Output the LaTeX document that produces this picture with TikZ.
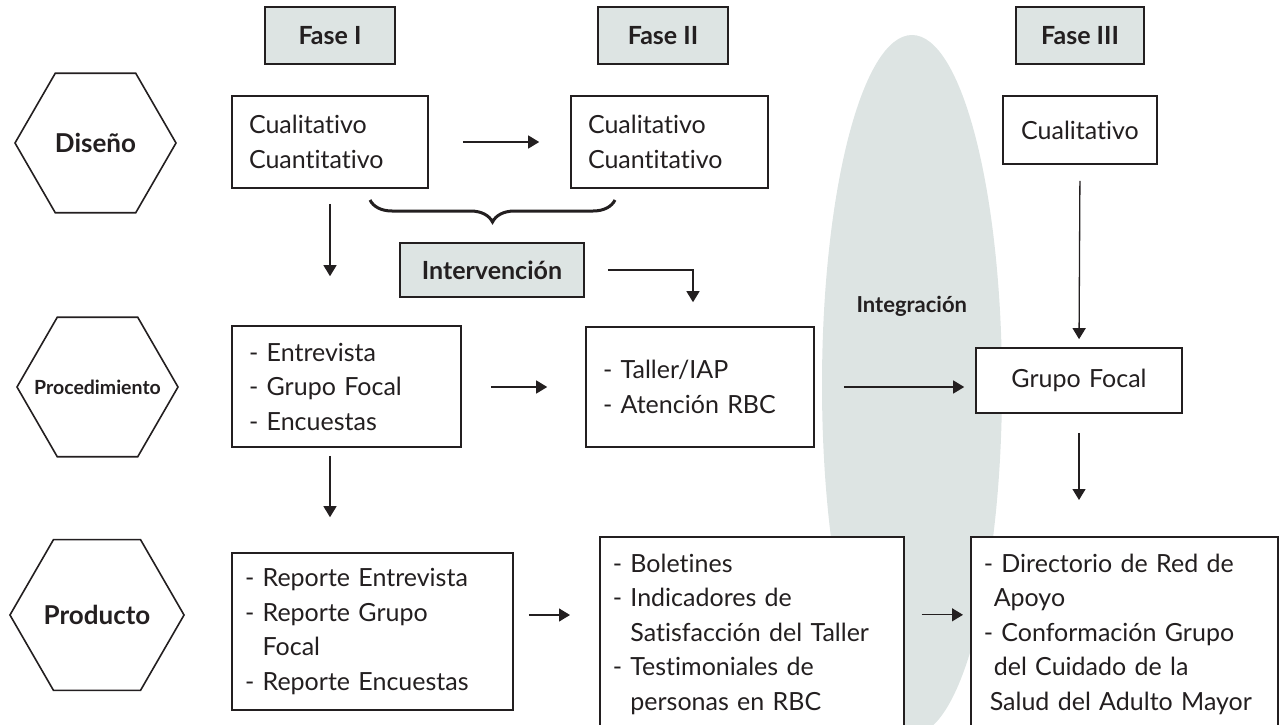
\documentclass[tikz,border=0pt]{standalone}
\usepackage{fontspec}
\setmainfont[Ligatures=NoCommon]{Lato}
\usepackage{tikz}
\definecolor{phase}{RGB}{221,228,227}
\definecolor{ink}{RGB}{35,31,32}
\usetikzlibrary{shapes.geometric}
\usetikzlibrary{arrows.meta}
\usetikzlibrary{decorations.pathreplacing}
\usetikzlibrary{positioning}

\tikzset{
  phasebox/.style={draw=ink, fill=phase, line width=1.6pt, inner sep=0pt,
    font=\fontsize{25}{28}\selectfont\bfseries},
  stagehex/.style={draw=ink, fill=white, regular polygon, regular polygon sides=6,
    minimum size=161pt, inner sep=0pt, line width=1.6pt,
    font=\fontsize{26}{28}\selectfont\bfseries},
  itembox/.style={draw=ink, fill=white, line width=1.6pt, align=left,
    inner xsep=17pt, inner ysep=0pt},
  flow/.style={draw=ink, line width=1.3pt, -{Triangle[length=11pt,width=13pt]}}
}

\begin{document}
\begin{tikzpicture}[x=1pt, y=-1pt, every node/.style={text=ink, font=\fontsize{25}{34.5}\selectfont}]
	\useasboundingbox (0,0) rectangle (1279,725);
	% integration band
	\fill[phase] (912,385) ellipse [x radius=90pt, y radius=350pt];
	\node[font=\fontsize{22}{24}\selectfont\bfseries, anchor=base west] (integ) at (853,312) {Integración};

	% phases
	\node[phasebox, minimum width=130pt, minimum height=57pt] (fase1) at (330,35.5) {Fase I};
	\node[phasebox, minimum width=130pt, minimum height=57pt] (fase2) at (663,35.5) {Fase II};
	\node[phasebox, minimum width=128pt, minimum height=57pt] (fase3) at (1080,35.5) {Fase III};

	% stages
	\node[stagehex] (disenio) at (95.5,143) {Diseño};
	\node[stagehex, label={[font=\fontsize{19.5}{22}\selectfont\bfseries, text=ink]center:Procedimiento}] (proced) at (97.5,387) {};
	\node[stagehex] (producto) at (97,615) {Producto};

	% design row
	\node[itembox, text width=162pt, minimum height=92pt] (dis1) at (330,142) {Cualitativo\\Cuantitativo};
	\node[itembox, text width=163pt, minimum height=92pt] (dis2) at (669.5,142) {Cualitativo\\Cuantitativo};
	\node[itembox, align=center, inner xsep=0pt, text width=154pt, minimum height=68pt] (dis3) at (1080,130) {Cualitativo};
	\draw[decorate, decoration={brace, amplitude=22pt}, line width=3pt, ink] (615,200) -- (370,200);
	\node[phasebox, minimum width=184pt, minimum height=54pt] (interv) at (492,270) {Intervención};

	% procedure row
	\node[itembox, text width=195pt, minimum height=121pt] (proc1) at (346.5,386.5) {- Entrevista\\- Grupo Focal\\- Encuestas};
	\node[itembox, text width=194pt, minimum height=120pt] (proc2) at (700,387) {- Taller/IAP\\- Atención RBC};
	\node[itembox, align=center, inner xsep=0pt, text width=206pt, minimum height=65pt] (grupo) at (1079,380.5) {Grupo Focal};

	% product row
	\node[itembox, inner xsep=13pt, text width=255pt, minimum height=157pt] (prod1) at (372.5,631.5)
		{- Reporte Entrevista\\- Reporte Grupo\\\phantom{- }Focal\\- Reporte Encuestas};
	\node[itembox, inner xsep=13pt, text width=278pt, minimum height=195pt, anchor=north west] (prod2) at (599,536)
		{- Boletines\\- Indicadores de\\\phantom{- }Satisfacción del Taller\\- Testimoniales de\\\phantom{- }personas en RBC};
	\node[itembox, inner xsep=13pt, text width=281pt, minimum height=195pt, anchor=north west] (prod3) at (970,536)
		{- Directorio de Red de\\\hspace*{10pt}Apoyo\\- Conformación Grupo\\\hspace*{10pt}del Cuidado de la\\\hspace*{6pt}Salud del Adulto Mayor};

	% arrows
	\draw[flow, shorten <=34pt, shorten >=31pt] (dis1.east) -- (dis2.west);
	\draw[flow, shorten <=15pt, shorten >=49pt] (dis1.south) -- (dis1.south |- proc1.north);
	\draw[flow, shorten <=23pt, shorten >=24pt] (interv.east) -| ([xshift=-7pt]proc2.north);
	\draw[flow, shorten <=16pt, shorten >=8pt] (dis3.south) -- (grupo.north);
	\draw[flow, shorten <=29pt, shorten >=38pt] (proc1.east |- proc2.west) -- (proc2.west);
	\draw[flow, shorten <=29pt, shorten >=11pt] (proc2.east) -- (proc2.east -| grupo.west);
	\coordinate (proc1out) at ([xshift=-16.5pt]proc1.south);
	\draw[flow, shorten <=8pt, shorten >=35pt] (proc1out) -- (proc1out |- prod1.north);
	\draw[flow, shorten <=19pt, shorten >=36pt] (grupo.south) -- (grupo.south |- prod3.north);
	\coordinate (prod1out) at ([yshift=16.5pt]prod1.east);
	\draw[flow, shorten <=15pt, shorten >=29pt] (prod1out) -- (prod1out -| prod2.west);
	\coordinate (prod2out) at ([yshift=19.5pt]prod2.east);
	\draw[flow, shorten <=17pt, shorten >=7pt] (prod2out) -- (prod2out -| prod3.west);
\end{tikzpicture}
\end{document}
